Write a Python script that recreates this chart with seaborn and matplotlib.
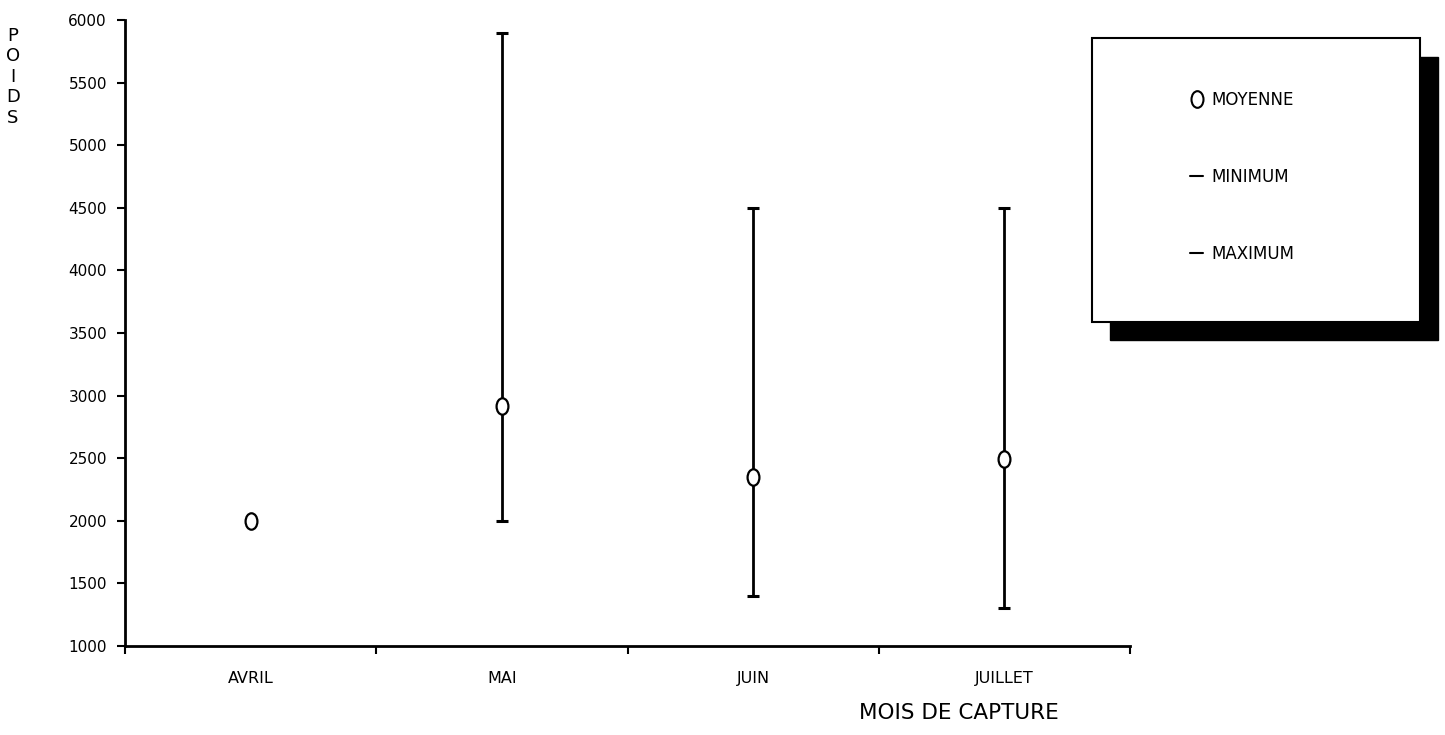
import numpy as np
import pandas as pd
import matplotlib
matplotlib.use("Agg")
import matplotlib.pyplot as plt
import seaborn as sns
from matplotlib.path import Path
from matplotlib.markers import MarkerStyle
from matplotlib.transforms import Affine2D
from matplotlib.lines import Line2D
from matplotlib.patches import Rectangle

# ---- data ----
months = ["AVRIL", "MAI", "JUIN", "JUILLET"]
moyenne = [2000, 2920, 2350, 2490]
minimum = [np.nan, 2000, 1400, 1300]
maximum = [np.nan, 5900, 4500, 4500]
y_ticks = [1000, 1500, 2000, 2500, 3000, 3500, 4000, 4500, 5000, 5500, 6000]
legend_labels = ["MOYENNE", "MINIMUM", "MAXIMUM"]

sns.set_theme(style="ticks")
plt.rcParams["font.family"] = ["DejaVu Sans"]
plt.rcParams["text.color"] = "black"
plt.rcParams["axes.labelcolor"] = "black"
plt.rcParams["xtick.color"] = "black"
plt.rcParams["ytick.color"] = "black"

W, H = 1445, 735
fig = plt.figure(figsize=(W / 100, H / 100), dpi=100)
fig.patch.set_facecolor("white")
ax = fig.add_axes([125 / W, 1 - 646 / H, 1005 / W, 626 / H])
ax.set_facecolor("white")

df = pd.DataFrame({"mois": months, "moyenne": moyenne,
                   "minimum": minimum, "maximum": maximum})

ellipse = MarkerStyle(Path.unit_circle().transformed(Affine2D().scale(0.72, 1.0)))

sns.scatterplot(data=df, x="mois", y="moyenne", marker=ellipse, s=140,
                color="white", edgecolor="black", linewidth=1.6, ax=ax,
                zorder=4, legend=False)

ax.vlines(df["mois"], df["minimum"], df["maximum"], color="black", lw=2.0, zorder=3)
ax.plot(df["mois"], df["minimum"], ls="none", marker="_", ms=9, mew=2.2, color="black", zorder=3)
ax.plot(df["mois"], df["maximum"], ls="none", marker="_", ms=9, mew=2.2, color="black", zorder=3)

ax.set_ylim(y_ticks[0], y_ticks[-1])
ax.set_xlim(-0.5, len(months) - 0.5)
ax.set_yticks(y_ticks)
ax.set_yticklabels([str(t) for t in y_ticks], fontsize=11)
ax.set_xticks(range(len(months)))
ax.set_xticklabels(months, fontsize=11.5)
ax.set_xticks(np.arange(-0.5, len(months), 1.0), minor=True)
ax.tick_params(axis="x", which="major", length=0, pad=18)
ax.tick_params(axis="x", which="minor", length=6, width=1.5, direction="out")
ax.tick_params(axis="y", which="major", length=6, width=1.5, direction="out", pad=7)

sns.despine(ax=ax)
for s in ("left", "bottom"):
    ax.spines[s].set_linewidth(2)
    ax.spines[s].set_color("black")

ax.set_ylabel("P\nO\nI\nD\nS", rotation=0, fontsize=13, linespacing=1.17,
              ha="center", va="top")
ax.yaxis.set_label_coords((13 - 125) / 1005, (646 - 27) / 626)
ax.set_xlabel("MOIS DE CAPTURE", fontsize=15.5, ha="center", va="center")
ax.xaxis.set_label_coords((959 - 125) / 1005, (646 - 713) / 626)

# legend box with black drop shadow
fig.add_artist(Rectangle((1110 / W, 1 - 340 / H), (1438 - 1110) / W, (340 - 57) / H,
                         transform=fig.transFigure, facecolor="black", edgecolor="black", zorder=1))
fig.add_artist(Rectangle((1092 / W, 1 - 322 / H), (1420 - 1092) / W, (322 - 38) / H,
                         transform=fig.transFigure, facecolor="white", edgecolor="black",
                         lw=1.5, zorder=2))
handles = [
    Line2D([], [], ls="none", marker=ellipse, ms=12, mfc="white", mec="black", mew=1.5),
    Line2D([], [], color="black", lw=1.5),
    Line2D([], [], color="black", lw=1.5),
]
leg = fig.legend(handles, legend_labels, loc="upper left",
                 bbox_to_anchor=(1190 / W, 1 - 91 / H), frameon=False,
                 fontsize=12, labelspacing=3.55, handlelength=0.8,
                 handletextpad=0.5, borderpad=0, borderaxespad=0)
leg.set_zorder(5)

fig.savefig("out.png", dpi=100, facecolor="white")
